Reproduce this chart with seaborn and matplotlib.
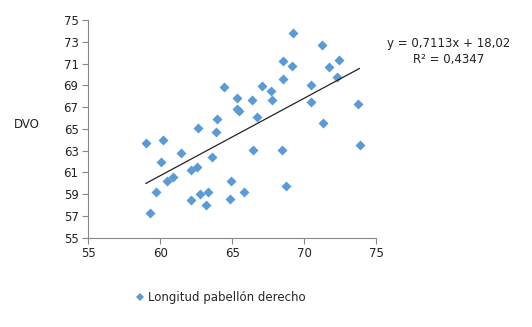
import matplotlib
matplotlib.use("Agg")
import matplotlib.pyplot as plt
import seaborn as sns
import numpy as np
import pandas as pd

# Longitud del pabellón derecho vs DVO
longitud = [58.99, 60.21, 60.07, 61.46, 59.70, 59.28, 60.46, 60.86, 62.11, 62.53,
            62.64, 62.16, 62.74, 63.34, 63.20, 63.62, 63.85, 63.97, 66.75, 71.34,
            73.85, 66.45, 68.49, 64.94, 68.77, 65.82, 64.86, 69.25, 71.21, 68.56,
            69.18, 72.45, 71.76, 72.25, 68.56, 64.43, 67.07, 67.70, 70.50, 65.31,
            66.40, 67.77, 70.44, 65.33, 65.47, 73.71]
dvo = [63.67, 63.94, 61.92, 62.75, 59.16, 57.23, 60.17, 60.60, 61.19, 61.52,
       65.05, 58.43, 59.04, 59.16, 58.03, 62.38, 64.68, 65.87, 66.06, 65.51,
       63.48, 63.02, 63.02, 60.20, 59.71, 59.19, 58.55, 73.81, 72.70, 71.23,
       70.74, 71.30, 70.65, 69.73, 69.58, 68.81, 68.90, 68.47, 69.00, 67.80,
       67.69, 67.62, 67.43, 66.79, 66.64, 67.25]

pendiente = 0.7113
intercepto = 18.02
r2 = 0.4347

x_ticks = [55, 60, 65, 70, 75]
y_ticks = [55, 57, 59, 61, 63, 65, 67, 69, 71, 73, 75]

sns.set_style("white")
plt.rcParams["font.family"] = ["DejaVu Sans"]

df = pd.DataFrame({"Longitud pabellón derecho": longitud, "DVO": dvo})

fig = plt.figure(figsize=(5.32, 3.27), dpi=100)
ax = fig.add_axes([0.166, 0.273, 0.541, 0.666])

color = "#5B9BD5"
sns.scatterplot(data=df, x="Longitud pabellón derecho", y="DVO", ax=ax,
                marker="D", s=26, color=color, edgecolor=color, linewidth=0,
                label="Longitud pabellón derecho", legend=False)

# Linear trend line from the fitted equation
xl = np.array([min(longitud), max(longitud)])
ax.plot(xl, pendiente * xl + intercepto, color="#222222", linewidth=0.9)

ax.set_xlim(55, 75)
ax.set_ylim(55, 75)
ax.set_xticks(x_ticks)
ax.set_yticks(y_ticks)
ax.set_xticklabels([str(t) for t in x_ticks])
ax.set_yticklabels([str(t) for t in y_ticks])
ax.tick_params(axis="both", which="both", direction="out", length=4, width=0.8,
               color="#888888", labelsize=8.5, labelcolor="#222222", pad=3)
ax.tick_params(axis="x", bottom=True)
ax.tick_params(axis="y", left=True)
for side in ["top", "right"]:
    ax.spines[side].set_visible(False)
for side in ["left", "bottom"]:
    ax.spines[side].set_color("#888888")
    ax.spines[side].set_linewidth(0.8)

ax.set_xlabel("")
ax.set_ylabel("")
fig.text(27 / 532, 1 - 125 / 327, "DVO", fontsize=8.5, color="#222222",
         ha="center", va="center")

eq = "y = {:.4f}x + {:.2f}".format(pendiente, intercepto).replace(".", ",")
fig.text(449 / 532, 1 - 44 / 327, eq, fontsize=8.5, color="#222222",
         ha="center", va="center")
fig.text(449 / 532, 1 - 59 / 327, "R² = {:.4f}".format(r2).replace(".", ","),
         fontsize=8.5, color="#222222", ha="center", va="center")

handle = plt.Line2D([], [], marker="D", linestyle="none", color=color,
                    markersize=4, markeredgewidth=0)
fig.legend([handle], ["Longitud pabellón derecho"], loc="center",
           bbox_to_anchor=(220 / 532, 1 - 298 / 327), frameon=False,
           fontsize=8.5, handletextpad=0.2, handlelength=1.0)

fig.savefig("out.png", dpi=100)
